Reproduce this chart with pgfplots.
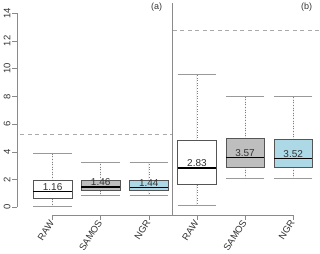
\documentclass[border=0pt]{standalone}
\usepackage{pgfplots}
\pgfplotsset{compat=1.18}
\usepgfplotslibrary{statistics}
\usepackage{fontspec}
\setmainfont{Liberation Sans}
\definecolor{boxline}{HTML}{555555}
\definecolor{axiscol}{HTML}{8A8A8A}
\definecolor{whiskcol}{HTML}{808080}
\definecolor{capcol}{HTML}{999999}
\definecolor{samosfill}{HTML}{BEBEBE}
\definecolor{ngrfill}{HTML}{ADD8E6}
\definecolor{dashcol}{HTML}{AAAAAA}
\definecolor{txt}{HTML}{333333}
\begin{document}
\begin{tikzpicture}
\begin{axis}[
  width=303pt, height=214pt, scale only axis,
  xmin=0.26, xmax=6.55, ymin=-0.576, ymax=14.84,
  axis x line*=bottom, axis y line*=left,
  axis line style={draw=none},
  xtick={1,2,3,4,5,6},
  xticklabels={RAW,SAMOS,NGR,RAW,SAMOS,NGR},
  ytick={0,2,4,6,8,10,12,14},
  tick align=outside, major tick length=4.5pt,
  tick style={axiscol, line width=0.6pt},
  xticklabel style={rotate=57, anchor=east, font=\fontsize{9.5}{11}\selectfont, text=txt, inner sep=1.2pt},
  yticklabel style={rotate=90, anchor=south, font=\fontsize{9.5}{11}\selectfont, text=txt, inner sep=1.8pt},
  /pgf/number format/assume math mode=true,
  clip=false,
  boxplot/draw direction=y,
  boxplot/box extend=0.8,
  boxplot/whisker extend=0.8,
  boxplot/every median/.style={draw=black, line width=1.3pt},
  boxplot/draw/lower whisker/.code={
    \draw[dotted, whiskcol, line width=0.6pt] (boxplot box cs:\pgfplotsboxplotvalue{lower quartile},0.5) -- (boxplot box cs:\pgfplotsboxplotvalue{lower whisker},0.5);
    \draw[capcol, line width=0.9pt] (boxplot whisker cs:\pgfplotsboxplotvalue{lower whisker},0) -- (boxplot whisker cs:\pgfplotsboxplotvalue{lower whisker},1);
  },
  boxplot/draw/upper whisker/.code={
    \draw[dotted, whiskcol, line width=0.6pt] (boxplot box cs:\pgfplotsboxplotvalue{upper quartile},0.5) -- (boxplot box cs:\pgfplotsboxplotvalue{upper whisker},0.5);
    \draw[capcol, line width=0.9pt] (boxplot whisker cs:\pgfplotsboxplotvalue{upper whisker},0) -- (boxplot whisker cs:\pgfplotsboxplotvalue{upper whisker},1);
  },
]
% dashed reference lines
\addplot[dashcol, line width=0.7pt, dash pattern=on 4pt off 3.5pt] coordinates {(0.33,5.25) (3.5,5.25)};
\addplot[dashcol, line width=0.7pt, dash pattern=on 4pt off 3.5pt] coordinates {(3.5,12.78) (6.55,12.78)};

% panel (a)
\addplot[boxline, fill=white, line width=0.6pt, boxplot prepared={draw position=1,
  lower whisker=0.05, lower quartile=0.63, median=1.16, upper quartile=1.95, upper whisker=3.87}] coordinates {};
\addplot[boxline, fill=samosfill, line width=0.6pt, boxplot prepared={draw position=2,
  lower whisker=0.86, lower quartile=1.20, median=1.46, upper quartile=1.95, upper whisker=3.26}] coordinates {};
\addplot[boxline, fill=ngrfill, line width=0.6pt, boxplot prepared={draw position=3,
  lower whisker=0.86, lower quartile=1.22, median=1.44, upper quartile=1.95, upper whisker=3.26}] coordinates {};
% panel (b)
\addplot[boxline, fill=white, line width=0.6pt, boxplot prepared={draw position=4,
  lower whisker=0.14, lower quartile=1.64, median=2.83, upper quartile=4.81, upper whisker=9.56}] coordinates {};
\addplot[boxline, fill=samosfill, line width=0.6pt, boxplot prepared={draw position=5,
  lower whisker=2.11, lower quartile=2.90, median=3.57, upper quartile=4.95, upper whisker=8.00}] coordinates {};
\addplot[boxline, fill=ngrfill, line width=0.6pt, boxplot prepared={draw position=6,
  lower whisker=2.09, lower quartile=2.88, median=3.52, upper quartile=4.90, upper whisker=8.00}] coordinates {};

% median labels
\begin{scope}[every node/.style={font=\fontsize{10}{12}\selectfont, text=txt, anchor=base, inner sep=0pt, yshift=1.2pt}]
\node at (axis cs:1,1.16) {1.16};
\node at (axis cs:2,1.46) {1.46};
\node at (axis cs:3,1.44) {1.44};
\node at (axis cs:4,2.83) {2.83};
\node at (axis cs:5,3.57) {3.57};
\node at (axis cs:6,3.52) {3.52};
\end{scope}

% axis lines and divider
\draw[axiscol, line width=0.6pt] (axis cs:0.26,0) -- (axis cs:0.26,14);
\draw[axiscol, line width=0.6pt] (axis cs:1,-0.576) -- (axis cs:6,-0.576);
\draw[axiscol, line width=0.8pt] (axis cs:3.5,-0.576) -- (axis cs:3.5,14.7);

% panel labels
\node[font=\fontsize{9}{10}\selectfont, text=txt] at (axis cs:3.16,14.41) {(a)};
\node[font=\fontsize{9}{10}\selectfont, text=txt] at (axis cs:6.28,14.41) {(b)};

\path ([xshift=-17pt]axis cs:0.26,0);
\end{axis}
\end{tikzpicture}
\end{document}
